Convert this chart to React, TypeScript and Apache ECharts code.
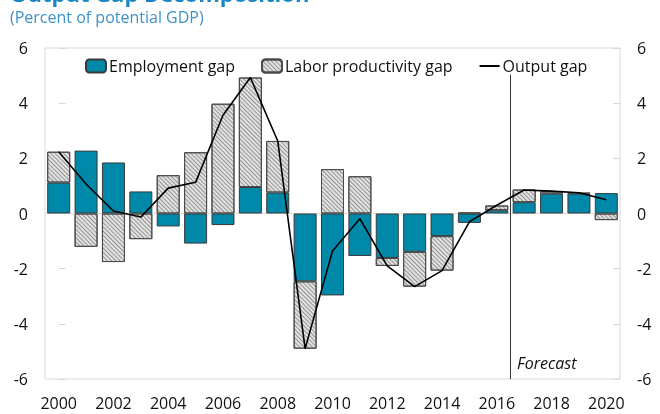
import React, { useEffect, useRef } from "react";
import * as echarts from "echarts";

const years = ["2000","2001","2002","2003","2004","2005","2006","2007","2008","2009","2010","2011","2012","2013","2014","2015","2016","2017","2018","2019","2020"];
const employmentGap = [1.12, 2.28, 1.85, 0.80, -0.47, -1.09, -0.42, 0.96, 0.76, -2.46, -2.97, -1.54, -1.61, -1.39, -0.82, -0.34, 0.12, 0.41, 0.72, 0.72, 0.74];
const productivityGap = [1.12, -1.21, -1.76, -0.93, 1.39, 2.22, 3.98, 3.97, 1.87, -2.44, 1.61, 1.35, -0.29, -1.26, -1.25, 0.03, 0.17, 0.46, 0.09, 0.03, -0.24];
const outputGap = [2.24, 1.07, 0.09, -0.13, 0.92, 1.13, 3.56, 4.93, 2.63, -4.90, -1.36, -0.19, -1.90, -2.65, -2.07, -0.30, 0.30, 0.85, 0.81, 0.75, 0.50];
const forecastLine = [[16.5, 5.03], [16.5, -6]];
const yTicks = [-6, 6, 2];

const FONT = "'Open Sans', sans-serif";

export default function App() {
  const ref = useRef<HTMLDivElement>(null);
  useEffect(() => {
    const chart = echarts.init(ref.current!, null, { renderer: "svg" });
    const zeroColors = ["transparent", "transparent", "transparent", "#d9d9d9", "transparent", "transparent", "transparent"];
    const yAxisBase = {
      type: "value",
      min: yTicks[0],
      max: yTicks[1],
      interval: yTicks[2],
      axisLine: { show: false },
      axisTick: { show: true, inside: true, length: 7, lineStyle: { color: "#d9d9d9" } },
      axisLabel: { color: "#111", fontSize: 16, fontFamily: FONT, margin: 17 },
    };
    chart.setOption({
      animation: false,
      textStyle: { fontFamily: FONT },
      graphic: [
        { type: "text", left: 10, top: -18, style: { text: "Output Gap Decomposition", font: `bold 22px ${FONT}`, fill: "#1b86c2" } },
        { type: "text", left: 10, top: 9, style: { text: "(Percent of potential GDP)", font: `16px ${FONT}`, fill: "#3d92c8" } },
        { type: "text", left: 517, top: 355, style: { text: "Forecast", font: `italic 16px ${FONT}`, fill: "#111" } },
      ],
      grid: { left: 45, right: 40, top: 48, bottom: 35, show: true, borderColor: "#d9d9d9", borderWidth: 1, backgroundColor: "transparent" },
      legend: {
        top: 53,
        left: 80,
        itemWidth: 20,
        itemHeight: 13,
        itemGap: 26,
        textStyle: { fontSize: 16, color: "#111", fontFamily: FONT, padding: [0, 0, 0, -2] },
        data: [
          "Employment gap",
          "Labor productivity gap",
          { name: "Output gap", itemStyle: { opacity: 0 } },
        ],
      },
      xAxis: [
        {
          type: "category",
          data: years,
          boundaryGap: true,
          axisLine: { show: false },
          axisTick: { show: false },
          axisLabel: { interval: 1, color: "#111", fontSize: 16, fontFamily: FONT, margin: 16 },
        },
        { type: "value", min: -0.5, max: 20.5, show: false },
      ],
      yAxis: [
        { ...yAxisBase, position: "left", splitLine: { show: true, lineStyle: { color: zeroColors } } },
        { ...yAxisBase, position: "right", splitLine: { show: false } },
      ],
      series: [
        {
          name: "Employment gap",
          type: "bar",
          stack: "gap",
          barWidth: 23,
          data: employmentGap,
          itemStyle: { color: "#0088a9", borderColor: "#3a3a3a", borderWidth: 1 },
        },
        {
          name: "Labor productivity gap",
          type: "bar",
          stack: "gap",
          barWidth: 23,
          data: productivityGap,
          itemStyle: {
            color: "#e2e2e2",
            borderColor: "#4a4a4a",
            borderWidth: 1,
            decal: { symbol: "rect", symbolSize: 1, color: "rgba(70,70,70,0.5)", dashArrayX: [1, 0], dashArrayY: [1, 1.2], rotation: Math.PI / 4 },
          },
        },
        {
          name: "Output gap",
          type: "line",
          data: outputGap,
          symbol: "none",
          lineStyle: { color: "#000", width: 1.6 },
          itemStyle: { color: "#000" },
          z: 5,
        },
        {
          name: "forecast",
          type: "line",
          xAxisIndex: 1,
          data: forecastLine,
          symbol: "none",
          lineStyle: { color: "#333", width: 1 },
          z: 4,
        },
      ],
    });
    return () => chart.dispose();
  }, []);
  return <div ref={ref} style={{ position: "fixed", left: 0, top: 0, width: 660, height: 414 }} />;
}
